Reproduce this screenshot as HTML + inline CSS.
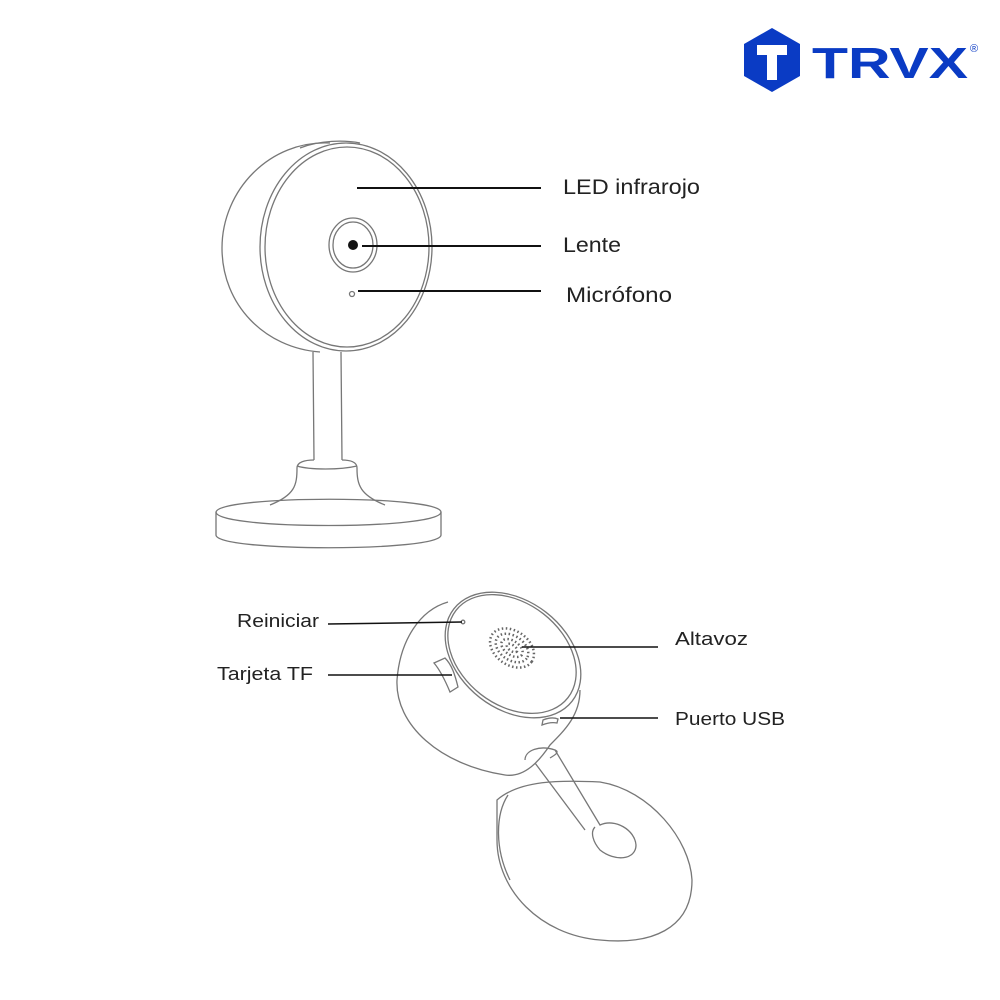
<!DOCTYPE html>
<html><head><meta charset="utf-8"><style>
html,body{margin:0;padding:0;background:#fff;}
svg{display:block}
text{font-family:"Liberation Sans",sans-serif;fill:#222}
</style></head><body>
<svg width="1000" height="1000" viewBox="0 0 1000 1000" xmlns="http://www.w3.org/2000/svg">
<!-- logo -->
<polygon points="772,28 800,44 800,76 772,92 744,76 744,44" fill="#0a3bc4"/>
<path d="M757,45 H787 V55 H777 V80 H767 V55 H757 Z" fill="#fff"/>
<text x="812" y="78" font-size="44" font-weight="bold" textLength="156" lengthAdjust="spacingAndGlyphs" style="fill:#0a3bc4">TRVX</text>
<text x="970" y="52" font-size="11" style="fill:#0a3bc4">®</text>

<g fill="none" stroke="#777" stroke-width="1.3">
<!-- top camera -->
<path d="M330,143 C270,140 222,190 222,248 C222,305 265,348 320,352"/>
<path d="M300,148 C320,140 345,140 360,143"/>
<ellipse cx="346" cy="247" rx="86" ry="104"/>
<ellipse cx="347" cy="247" rx="82" ry="100"/>
<ellipse cx="353" cy="245" rx="24" ry="27"/>
<ellipse cx="353" cy="245" rx="20" ry="23"/>
<circle cx="352" cy="294" r="2.5"/>
<path d="M313,352 L314,460 M341,352 L342,460"/>
<path d="M314,460 C305,460 297,462 297,468 C297,485 295,495 270,505"/>
<path d="M342,460 C350,460 357,462 357,468 C357,485 360,495 385,505"/>
<path d="M297,466 C310,470 340,470 357,466"/>
<path d="M216,512 C220,495 440,495 441,512 C441,530 216,530 216,512 Z"/>
<path d="M216,512 V535 C216,552 441,552 441,535 V512"/>

<!-- bottom camera -->
<path d="M448,602 C420,610 400,640 397,680 C395,725 440,765 505,775 C525,778 540,760 550,745 C565,730 580,715 580,690"/>
<ellipse cx="513" cy="655" rx="75" ry="54" transform="rotate(38 513 655)"/>
<ellipse cx="512" cy="654" rx="71" ry="51" transform="rotate(38 512 654)"/>
<circle cx="463" cy="622" r="1.8"/>
<path d="M434,663 L445,658 C452,665 455,675 458,687 L450,692 C445,680 440,670 434,663 Z"/>
<path d="M543,720 C548,718 553,717 558,719 L557,723 C552,722 547,723 542,725 Z"/>
<path d="M497,800 C520,780 560,780 600,782 C650,790 690,840 692,880 C692,930 650,945 600,940 C540,935 497,890 497,840 Z"/>
<path d="M508,795 C495,815 495,850 510,880"/>
<path d="M525,760 C525,750 540,745 555,750 L600,825 C615,818 635,830 636,845 C636,860 615,862 600,850 C593,842 590,832 595,827"/>
<path d="M535,763 L585,830"/>
<path d="M555,750 C560,752 555,755 550,758"/>
</g>
<g fill="#555">
<circle cx="353" cy="245" r="5" fill="#111"/>
<ellipse cx="512" cy="648" rx="24" ry="17" transform="rotate(35 512 648)" fill="none" stroke="#666" stroke-width="2.5" stroke-dasharray="1.5 2.5"/>
<ellipse cx="512" cy="648" rx="18" ry="12" transform="rotate(35 512 648)" fill="none" stroke="#666" stroke-width="2.5" stroke-dasharray="1.5 2.5"/>
<ellipse cx="512" cy="648" rx="12" ry="7" transform="rotate(35 512 648)" fill="none" stroke="#666" stroke-width="2.5" stroke-dasharray="1.5 2.5"/>
<ellipse cx="512" cy="648" rx="6" ry="3" transform="rotate(35 512 648)" fill="none" stroke="#666" stroke-width="2.5" stroke-dasharray="1.5 2.5"/>
</g>
<!-- leader lines -->
<g stroke="#111" stroke-width="2">
<line x1="357" y1="188" x2="541" y2="188"/>
<line x1="362" y1="246" x2="541" y2="246"/>
<line x1="358" y1="291" x2="541" y2="291"/>
<line x1="328" y1="624" x2="462" y2="622" stroke-width="1.5"/>
<line x1="328" y1="675" x2="452" y2="675" stroke-width="1.5"/>
<line x1="522" y1="647" x2="658" y2="647" stroke-width="1.5"/>
<line x1="560" y1="718" x2="658" y2="718" stroke-width="1.5"/>
</g>
<text x="563" y="194" font-size="21" textLength="137" lengthAdjust="spacingAndGlyphs">LED infrarojo</text>
<text x="563" y="252" font-size="21" textLength="58" lengthAdjust="spacingAndGlyphs">Lente</text>
<text x="566" y="302" font-size="21" textLength="106" lengthAdjust="spacingAndGlyphs">Micrófono</text>
<text x="237" y="627" font-size="18" textLength="82" lengthAdjust="spacingAndGlyphs">Reiniciar</text>
<text x="217" y="680" font-size="18" textLength="96" lengthAdjust="spacingAndGlyphs">Tarjeta TF</text>
<text x="675" y="645" font-size="18" textLength="73" lengthAdjust="spacingAndGlyphs">Altavoz</text>
<text x="675" y="725" font-size="18" textLength="110" lengthAdjust="spacingAndGlyphs">Puerto USB</text>
</svg>
</body></html>
